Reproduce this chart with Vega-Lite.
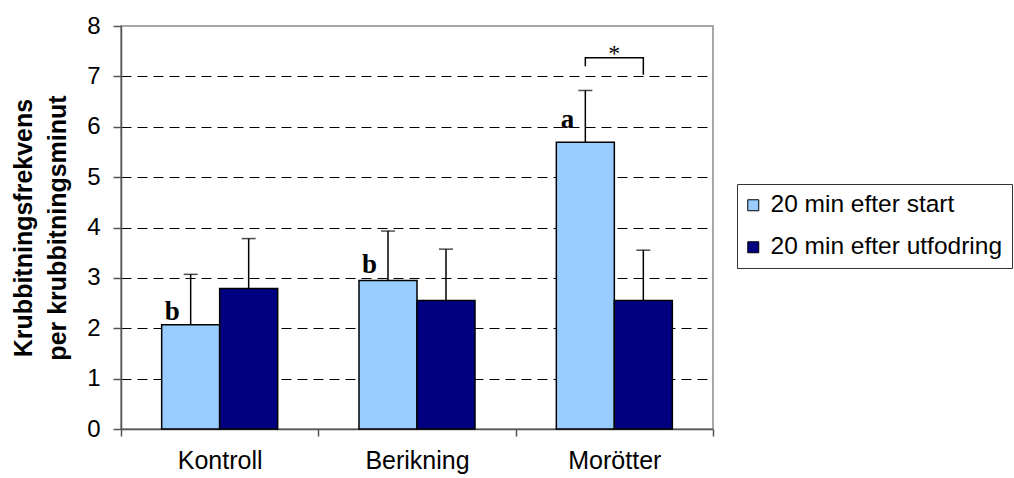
{
  "$schema": "https://vega.github.io/schema/vega-lite/v6.json",
  "width": 592,
  "height": 403,
  "autosize": "none",
  "padding": {"left": 121, "top": 26, "right": 301, "bottom": 49},
  "background": "white",
  "config": {
    "font": "Liberation Sans",
    "view": {"stroke": "#8c8c8c", "strokeWidth": 1.5},
    "axisY": {
      "titleFont": "Liberation Sans",
      "titleFontSize": 25,
      "titleFontWeight": "bold",
      "titleColor": "black",
      "titleLineHeight": 34,
      "titlePadding": 16,
      "labelFont": "Liberation Sans",
      "labelFontSize": 24,
      "labelColor": "black",
      "labelPadding": 13,
      "labelOverlap": false,
      "tickSize": 8,
      "tickColor": "#555",
      "tickWidth": 1.5,
      "domainColor": "#555",
      "domainWidth": 1.5,
      "grid": true,
      "gridColor": "black",
      "gridDash": [10, 6],
      "gridWidth": 1
    },
    "axisX": {
      "labelFont": "Liberation Sans",
      "labelFontSize": 25,
      "labelColor": "black",
      "labelAngle": 0,
      "labelPadding": 12,
      "tickSize": 7,
      "tickColor": "#555",
      "tickWidth": 1.5,
      "domainColor": "#555",
      "domainWidth": 1.5
    }
  },
  "datasets": {
    "bars": [
      {"group": "Kontroll", "series": "20 min efter start", "value": 2.07, "err": 3.07},
      {"group": "Kontroll", "series": "20 min efter utfodring", "value": 2.79, "err": 3.78},
      {"group": "Berikning", "series": "20 min efter start", "value": 2.95, "err": 3.93},
      {"group": "Berikning", "series": "20 min efter utfodring", "value": 2.55, "err": 3.57},
      {"group": "Morötter", "series": "20 min efter start", "value": 5.69, "err": 6.72},
      {"group": "Morötter", "series": "20 min efter utfodring", "value": 2.55, "err": 3.55}
    ],
    "letters": [
      {"group": "Kontroll", "series": "20 min efter start", "y": 2.17, "label": "b"},
      {"group": "Berikning", "series": "20 min efter start", "y": 3.1, "label": "b"},
      {"group": "Morötter", "series": "20 min efter start", "y": 5.97, "label": "a"}
    ],
    "bracket": [
      {"group": "Morötter", "series": "20 min efter start", "y": 7.2, "o": 1},
      {"group": "Morötter", "series": "20 min efter start", "y": 7.37, "o": 2},
      {"group": "Morötter", "series": "20 min efter utfodring", "y": 7.37, "o": 3},
      {"group": "Morötter", "series": "20 min efter utfodring", "y": 7.03, "o": 4}
    ],
    "star": [
      {"group": "Morötter", "y": 7.45, "label": "*"}
    ]
  },
  "encoding": {
    "x": {
      "field": "group",
      "type": "nominal",
      "sort": ["Kontroll", "Berikning", "Morötter"],
      "scale": {"paddingInner": 0, "paddingOuter": 0},
      "axis": {"title": null, "tickBand": "extent"}
    },
    "xOffset": {
      "field": "series",
      "type": "nominal",
      "sort": ["20 min efter start", "20 min efter utfodring"],
      "scale": {"paddingInner": 0, "paddingOuter": 0.701}
    }
  },
  "layer": [
    {
      "data": {"name": "bars"},
      "mark": {"type": "bar", "stroke": "black", "strokeWidth": 1.5},
      "encoding": {
        "y": {
          "field": "value",
          "type": "quantitative",
          "scale": {"domain": [0, 8], "nice": false},
          "axis": {
            "title": ["Krubbitningsfrekvens", "per krubbitningsminut"],
            "values": [0, 1, 2, 3, 4, 5, 6, 7, 8],
            "gridOpacity": {"condition": {"test": "datum.value == 0 || datum.value == 8", "value": 0}, "value": 1}
          }
        },
        "color": {
          "field": "series",
          "type": "nominal",
          "sort": ["20 min efter start", "20 min efter utfodring"],
          "scale": {"range": ["#99ccff", "#000080"]},
          "legend": {
            "title": null,
            "orient": "none",
            "legendX": 616,
            "legendY": 158,
            "labelFontSize": 24.5,
            "labelFont": "Liberation Sans",
            "labelColor": "black",
            "labelLimit": 500,
            "symbolType": "square",
            "symbolSize": 121,
            "symbolStrokeColor": "black",
            "symbolStrokeWidth": 1,
            "symbolOpacity": 1,
            "symbolOffset": -5,
            "padding": 9,
            "rowPadding": 17,
            "labelOffset": 5,
            "strokeColor": "#333",
            "fillColor": "white"
          }
        }
      }
    },
    {
      "data": {"name": "bars"},
      "mark": {"type": "rule", "color": "black", "strokeWidth": 1.5},
      "encoding": {
        "y": {
          "field": "value",
          "type": "quantitative",
          "axis": {
            "title": ["Krubbitningsfrekvens", "per krubbitningsminut"],
            "values": [0, 1, 2, 3, 4, 5, 6, 7, 8],
            "gridOpacity": {"condition": {"test": "datum.value == 0 || datum.value == 8", "value": 0}, "value": 1}
          }
        },
        "y2": {"field": "err"}
      }
    },
    {
      "data": {"name": "bars"},
      "mark": {"type": "tick", "color": "black", "thickness": 1.5, "size": 14, "orient": "horizontal"},
      "encoding": {
        "y": {
          "field": "err",
          "type": "quantitative",
          "axis": {
            "title": ["Krubbitningsfrekvens", "per krubbitningsminut"],
            "values": [0, 1, 2, 3, 4, 5, 6, 7, 8],
            "gridOpacity": {"condition": {"test": "datum.value == 0 || datum.value == 8", "value": 0}, "value": 1}
          }
        }
      }
    },
    {
      "data": {"name": "letters"},
      "mark": {"type": "text", "font": "Liberation Serif", "fontWeight": "bold", "fontSize": 27, "align": "right", "baseline": "alphabetic", "dx": -11, "color": "black"},
      "encoding": {
        "y": {
          "field": "y",
          "type": "quantitative",
          "axis": {
            "title": ["Krubbitningsfrekvens", "per krubbitningsminut"],
            "values": [0, 1, 2, 3, 4, 5, 6, 7, 8],
            "gridOpacity": {"condition": {"test": "datum.value == 0 || datum.value == 8", "value": 0}, "value": 1}
          }
        },
        "text": {"field": "label"}
      }
    },
    {
      "data": {"name": "bracket"},
      "mark": {"type": "line", "color": "black", "strokeWidth": 1.5},
      "encoding": {
        "y": {
          "field": "y",
          "type": "quantitative",
          "axis": {
            "title": ["Krubbitningsfrekvens", "per krubbitningsminut"],
            "values": [0, 1, 2, 3, 4, 5, 6, 7, 8],
            "gridOpacity": {"condition": {"test": "datum.value == 0 || datum.value == 8", "value": 0}, "value": 1}
          }
        },
        "order": {"field": "o"}
      }
    },
    {
      "data": {"name": "star"},
      "mark": {"type": "text", "font": "Liberation Serif", "fontSize": 24, "baseline": "middle", "color": "black"},
      "encoding": {
        "xOffset": null,
        "y": {
          "field": "y",
          "type": "quantitative",
          "axis": {
            "title": ["Krubbitningsfrekvens", "per krubbitningsminut"],
            "values": [0, 1, 2, 3, 4, 5, 6, 7, 8],
            "gridOpacity": {"condition": {"test": "datum.value == 0 || datum.value == 8", "value": 0}, "value": 1}
          }
        },
        "text": {"field": "label"}
      }
    }
  ]
}
